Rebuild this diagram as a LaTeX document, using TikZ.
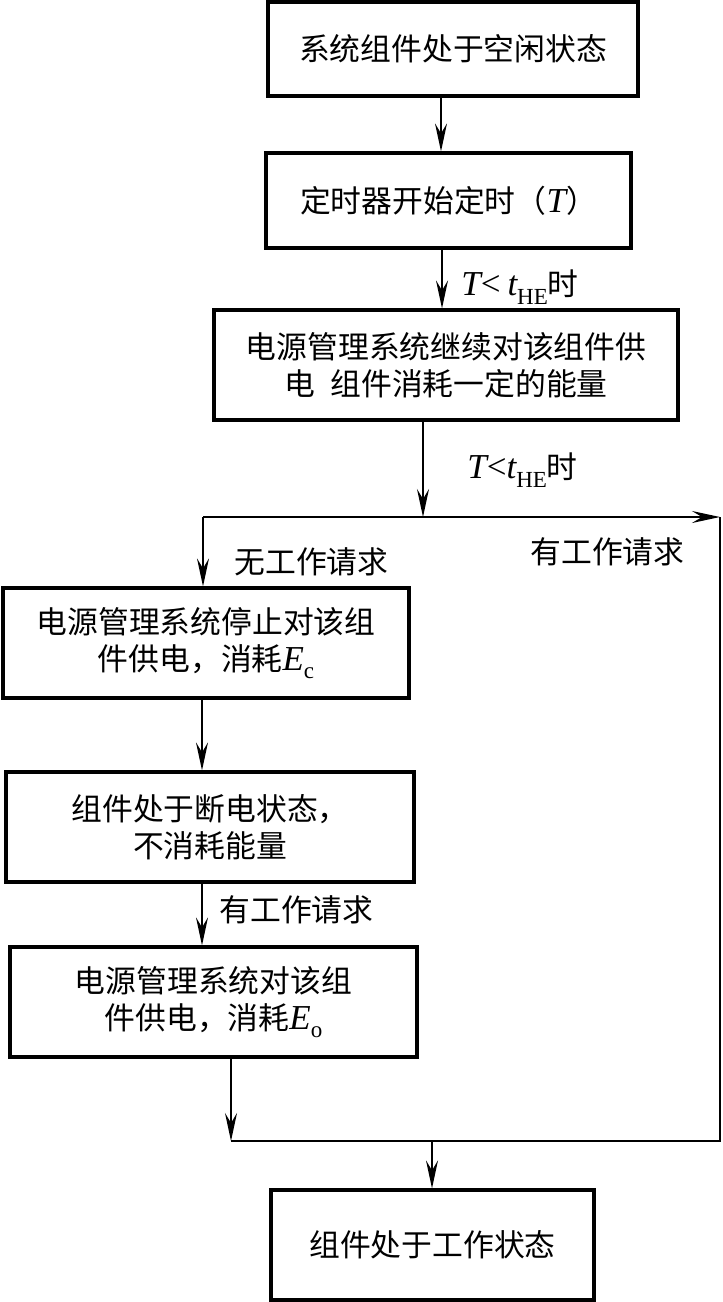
\documentclass[tikz,border=0pt]{standalone}
\usepackage{fontspec}
\setmainfont{Liberation Serif}
\newfontfamily\cjk{Noto Sans CJK SC}
\newfontfamily\lat{Liberation Serif}
\usetikzlibrary{arrows.meta}
\newcommand{\LT}[1]{{\lat\itshape\fontsize{17.5}{18.5}\selectfont #1}}
\newcommand{\LS}[1]{\raisebox{-0.5ex}{\lat\fontsize{11.5}{11.5}\selectfont #1}}
\tikzset{
  box/.style={draw, line width=1.6pt, inner sep=0pt, align=center,
    font=\cjk\fontsize{15.4}{18.5}\selectfont},
  lbl/.style={inner sep=0pt, anchor=west, font=\cjk\fontsize{15.4}{18.5}\selectfont},
  conn/.style={line width=0.9pt},
  arr/.style={conn, -{Stealth[length=14pt,width=6pt,inset=5pt]}}
}
\begin{document}
\begin{tikzpicture}[x=0.5pt,y=-0.5pt]
\useasboundingbox (0,0) rectangle (723,1302);
\node[box, minimum width=185pt, minimum height=47pt] (b1) at (453,49) {系统组件处于空闲状态};
\node[box, minimum width=182.5pt, minimum height=47.5pt] (b2) at (448.5,200.5) {定时器开始定时（\LT{T}）};
\node[box, minimum width=232pt, minimum height=55pt] (b3) at (446,365) {电源管理系统继续对该组件供\\电\hspace{0.5em}组件消耗一定的能量};
\node[box, minimum width=203pt, minimum height=55pt] (b4) at (206,643) {电源管理系统停止对该组\\件供电，消耗\LT{E}\LS{c}};
\node[box, minimum width=204pt, minimum height=55pt] (b5) at (210,827) {组件处于断电状态，\\不消耗能量};
\node[box, minimum width=203.5pt, minimum height=55pt] (b6) at (213.5,1002) {电源管理系统对该组\\件供电，消耗\LT{E}\LS{o}};
\node[box, minimum width=161.5pt, minimum height=55pt] (b7) at (432.5,1245) {组件处于工作状态};

\coordinate (x1) at (441,0);
\coordinate (x2) at (442,0);
\coordinate (x3) at (202,0);
\coordinate (j1) at (423,517);
\coordinate (jl) at (203,517);
\coordinate (jr) at (720,517);
\coordinate (kr) at (720,1141);
\coordinate (kl) at (231,1141);
\coordinate (km) at (432,1141);

\draw[arr] (b1.south -| x1) -- (b2.north -| x1);
\draw[arr] (b2.south -| x2) -- (b3.north -| x2);
\draw[arr] (b3.south -| j1) -- (j1);
\draw[arr] (jl) -- (jr);
\draw[conn] (jr) -- (kr) -- (kl);
\draw[arr] (jl) -- (b4.north -| jl);
\draw[arr] (b4.south -| x3) -- (b5.north -| x3);
\draw[arr] (b5.south -| x3) -- (b6.north -| x3);
\draw[arr] (b6.south -| kl) -- (kl);
\draw[arr] (km) -- (b7.north -| km);

\node[lbl] (l1) at (461,287) {\LT{T}{\lat\fontsize{17.5}{18.5}\selectfont <} \LT{t}\LS{HE}时};
\node[lbl] (l2) at (467,470) {\LT{T}{\lat\fontsize{17.5}{18.5}\selectfont <}\LT{t}\LS{HE}时};
\node[lbl] (l3) at (234,562) {无工作请求};
\node[lbl] (l4) at (530,552) {有工作请求};
\node[lbl] (l5) at (219,910) {有工作请求};
\end{tikzpicture}
\end{document}
